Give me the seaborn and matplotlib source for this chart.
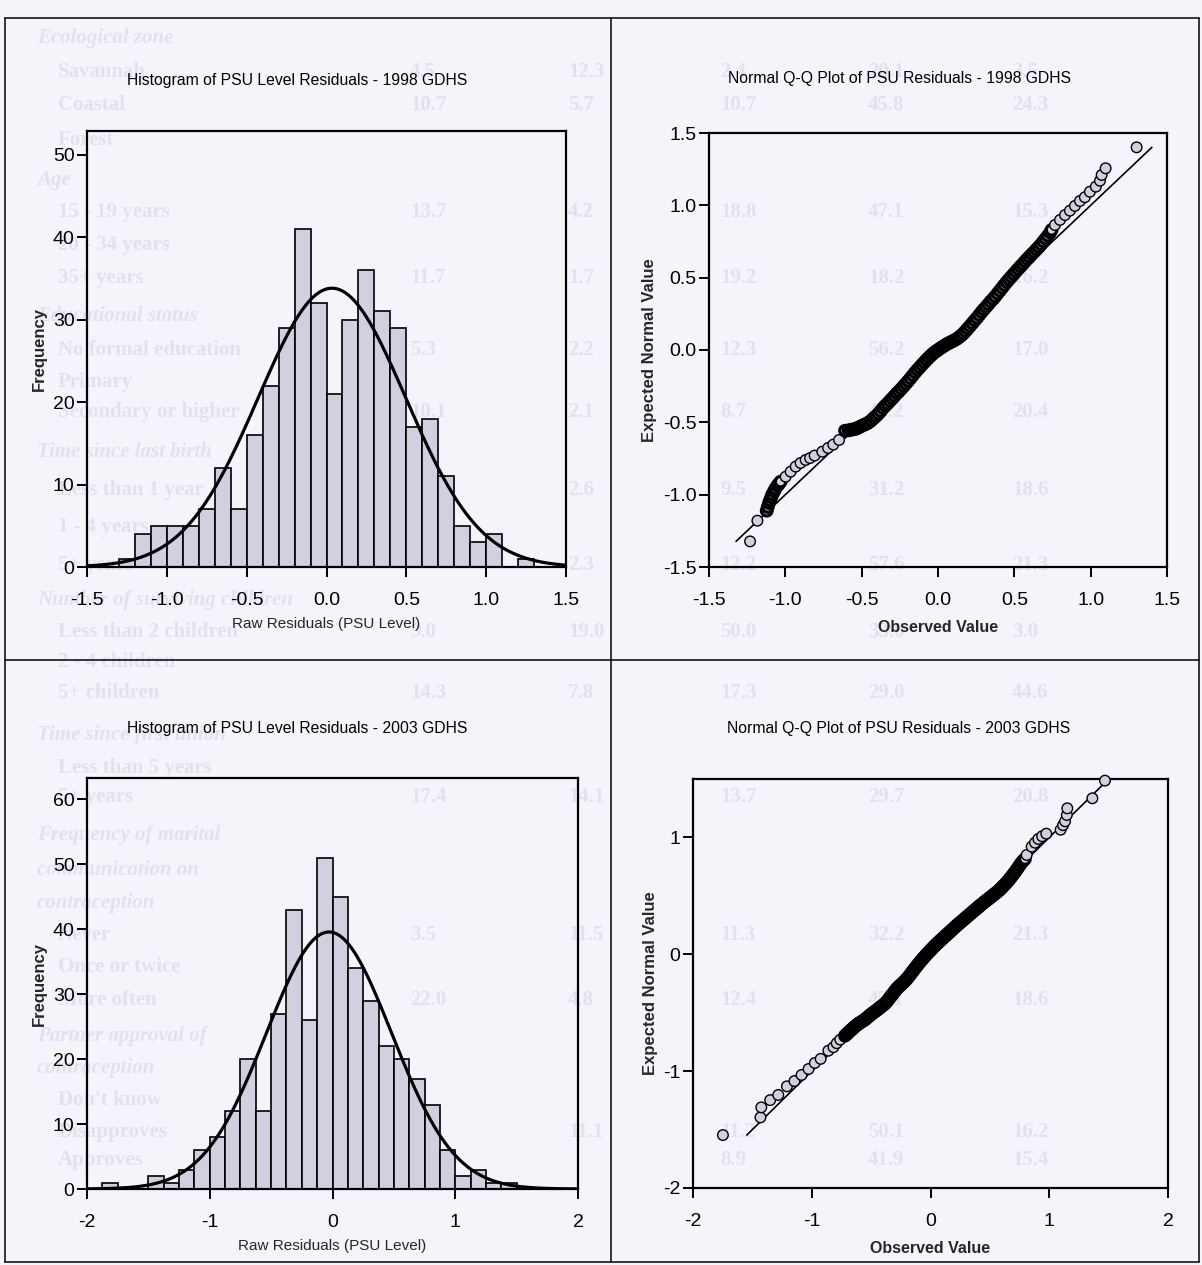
import numpy as np
import pandas as pd
import matplotlib
matplotlib.use("Agg")
import matplotlib.pyplot as plt
from matplotlib.lines import Line2D
import seaborn as sns

# ---------------- data ----------------
# PSU-level residual histograms (counts per bin)
hist98_start = -1.3
hist98_width = 0.1
hist98_counts = [1, 4, 5, 5, 5, 7, 12, 7, 16, 22, 29, 41, 32, 21, 30, 36,
                 31, 29, 17, 18, 11, 5, 3, 4, 0, 1]

hist03_start = -1.875
hist03_width = 0.125
hist03_counts = [1, 0, 0, 2, 1, 3, 6, 8, 12, 20, 12, 27, 43, 26, 51, 45,
                 34, 29, 22, 20, 17, 13, 6, 2, 3, 1, 1]

# Normal Q-Q points: observed residual vs expected normal value
qq98_obs = [-1.231, -1.183, -1.122, -1.115, -1.107, -1.100, -1.092, -1.085, -1.074, -1.065,
            -1.052, -1.042, -1.031, -0.998, -0.965, -0.932, -0.900, -0.867, -0.838, -0.808,
            -0.758, -0.720, -0.686, -0.648, -0.609,
            -0.585, -0.570, -0.555, -0.540, -0.525, -0.510, -0.495, -0.480, -0.465, -0.450,
            -0.435, -0.420, -0.405, -0.390, -0.375, -0.360, -0.345, -0.330, -0.315, -0.300,
            -0.285, -0.270, -0.255, -0.240, -0.225, -0.210, -0.195, -0.180, -0.165, -0.150,
            -0.135, -0.120, -0.105, -0.090, -0.075, -0.060, -0.045, -0.030, -0.015, 0.000,
            0.015, 0.030, 0.045, 0.060, 0.075, 0.090, 0.105, 0.120, 0.135, 0.150,
            0.165, 0.180, 0.195, 0.210, 0.225, 0.240, 0.255, 0.270, 0.285, 0.300,
            0.315, 0.330, 0.345, 0.360, 0.375, 0.390, 0.405, 0.420, 0.435, 0.450,
            0.465, 0.480, 0.495, 0.510, 0.525, 0.540, 0.555, 0.570, 0.585, 0.600,
            0.615, 0.630, 0.645, 0.660, 0.675, 0.690, 0.705, 0.720, 0.735,
            0.744, 0.766, 0.799, 0.832, 0.864, 0.897, 0.930, 0.962, 0.995, 1.034,
            1.061, 1.072, 1.098, 1.301]
qq98_exp = [-1.323, -1.180, -1.111, -1.085, -1.058, -1.040, -1.018, -0.998, -0.977, -0.958,
            -0.938, -0.925, -0.910, -0.876, -0.841, -0.806, -0.781, -0.760, -0.747, -0.730,
            -0.703, -0.677, -0.654, -0.622, -0.558,
            -0.555, -0.552, -0.548, -0.545, -0.538, -0.530, -0.522, -0.515, -0.508, -0.498,
            -0.485, -0.470, -0.456, -0.440, -0.422, -0.402, -0.385, -0.370, -0.352, -0.335,
            -0.318, -0.300, -0.285, -0.268, -0.250, -0.232, -0.214, -0.195, -0.175, -0.155,
            -0.137, -0.120, -0.102, -0.085, -0.068, -0.052, -0.037, -0.022, -0.010, 0.000,
            0.012, 0.022, 0.032, 0.042, 0.050, 0.058, 0.066, 0.075, 0.086, 0.098,
            0.113, 0.130, 0.148, 0.166, 0.185, 0.204, 0.222, 0.242, 0.262, 0.280,
            0.298, 0.316, 0.335, 0.352, 0.370, 0.390, 0.410, 0.430, 0.450, 0.470,
            0.488, 0.506, 0.524, 0.542, 0.560, 0.577, 0.594, 0.612, 0.629, 0.645,
            0.662, 0.678, 0.695, 0.712, 0.730, 0.750, 0.770, 0.790, 0.812,
            0.830, 0.864, 0.899, 0.933, 0.963, 0.996, 1.030, 1.056, 1.094, 1.129,
            1.170, 1.210, 1.256, 1.401]

qq03_obs = [-1.748, -1.432, -1.425, -1.350, -1.282, -1.209, -1.146, -1.086, -1.027, -0.974,
            -0.925, -0.860, -0.817, -0.790, -0.760,
            -0.720, -0.705, -0.690, -0.675, -0.660, -0.645, -0.630, -0.615, -0.600, -0.585,
            -0.570, -0.555, -0.540, -0.525, -0.510, -0.495, -0.480, -0.465, -0.450, -0.435,
            -0.420, -0.405, -0.390, -0.375, -0.360, -0.345, -0.330, -0.315, -0.300, -0.285,
            -0.270, -0.255, -0.240, -0.225, -0.210, -0.195, -0.180, -0.165, -0.150, -0.135,
            -0.120, -0.105, -0.090, -0.075, -0.060, -0.045, -0.030, -0.015, 0.000, 0.015,
            0.030, 0.045, 0.060, 0.075, 0.090, 0.105, 0.120, 0.135, 0.150, 0.165,
            0.180, 0.195, 0.210, 0.225, 0.240, 0.255, 0.270, 0.285, 0.300, 0.315,
            0.330, 0.345, 0.360, 0.375, 0.390, 0.405, 0.420, 0.435, 0.450, 0.465,
            0.480, 0.495, 0.510, 0.525, 0.540, 0.555, 0.570, 0.585, 0.600, 0.615,
            0.630, 0.645, 0.660, 0.675, 0.690, 0.705, 0.720, 0.735, 0.750, 0.765, 0.780,
            0.795, 0.810, 0.852, 0.880, 0.908, 0.940, 0.975, 1.096, 1.116, 1.133,
            1.148, 1.152, 1.363, 1.469]
qq03_exp = [-1.547, -1.396, -1.310, -1.248, -1.204, -1.130, -1.085, -1.033, -0.982, -0.930,
            -0.895, -0.825, -0.795, -0.761, -0.730,
            -0.697, -0.683, -0.668, -0.654, -0.640, -0.626, -0.613, -0.600, -0.590, -0.580,
            -0.570, -0.560, -0.548, -0.535, -0.522, -0.510, -0.498, -0.487, -0.476, -0.464,
            -0.452, -0.440, -0.428, -0.413, -0.395, -0.375, -0.355, -0.335, -0.315, -0.296,
            -0.280, -0.266, -0.252, -0.238, -0.222, -0.205, -0.186, -0.166, -0.146, -0.126,
            -0.106, -0.087, -0.068, -0.050, -0.032, -0.015, 0.002, 0.018, 0.034, 0.050,
            0.066, 0.081, 0.096, 0.110, 0.124, 0.138, 0.152, 0.166, 0.180, 0.194,
            0.208, 0.222, 0.236, 0.250, 0.263, 0.276, 0.289, 0.302, 0.315, 0.328,
            0.341, 0.354, 0.367, 0.380, 0.393, 0.406, 0.419, 0.432, 0.444, 0.456,
            0.468, 0.480, 0.492, 0.504, 0.516, 0.528, 0.541, 0.555, 0.570, 0.586,
            0.602, 0.618, 0.636, 0.655, 0.675, 0.695, 0.716, 0.738, 0.760, 0.782, 0.800,
            0.815, 0.850, 0.921, 0.955, 0.987, 1.010, 1.032, 1.066, 1.105, 1.138,
            1.192, 1.249, 1.335, 1.486]

titles = ["Histogram of PSU Level Residuals - 1998 GDHS",
          "Normal Q-Q Plot of PSU Residuals - 1998 GDHS",
          "Histogram of PSU Level Residuals - 2003 GDHS",
          "Normal Q-Q Plot of PSU Residuals - 2003 GDHS"]
hist_xlabel = "Raw Residuals (PSU Level)"
hist_ylabel = "Frequency"
qq_xlabel = "Observed Value"
qq_ylabel = "Expected Normal Value"

# faint table printed on the reverse side of the page
page_headers = [("Ecological zone", 38), ("Age", 180), ("Educational status", 316),
                ("Time since last birth", 452), ("Number of surviving children", 600),
                ("Time since first union", 735), ("Frequency of marital", 835),
                ("communication on", 870), ("contraception", 903),
                ("Partner approval of", 1036), ("contraception", 1068)]
page_rows = [("Savannah", 72), ("Coastal", 105), ("Forest", 140),
             ("15 - 19 years", 212), ("20 - 34 years", 245), ("35+ years", 278),
             ("No formal education", 350), ("Primary", 382), ("Secondary or higher", 412),
             ("Less than 1 year", 490), ("1 - 4 years", 527), ("5+ years", 565),
             ("Less than 2 children", 632), ("2 - 4 children", 662), ("5+ children", 693),
             ("Less than 5 years", 768), ("5+ years", 797),
             ("Never", 935), ("Once or twice", 967), ("More often", 1000),
             ("Don't know", 1100), ("Disapproves", 1132), ("Approves", 1160)]
page_values = [(72, ["4.5", "12.3", "2.4", "20.1", "3.5"]),
               (105, ["10.7", "5.7", "10.7", "45.8", "24.3"]),
               (212, ["13.7", "4.2", "18.8", "47.1", "15.3"]),
               (278, ["11.7", "1.7", "19.2", "18.2", "16.2"]),
               (350, ["5.3", "2.2", "12.3", "56.2", "17.0"]),
               (412, ["10.1", "2.1", "8.7", "44.2", "20.4"]),
               (490, ["", "2.6", "9.5", "31.2", "18.6"]),
               (565, ["", "2.3", "12.2", "57.6", "21.3"]),
               (632, ["9.0", "19.0", "50.0", "33.0", "3.0"]),
               (693, ["14.3", "7.8", "17.3", "29.0", "44.6"]),
               (797, ["17.4", "14.1", "13.7", "29.7", "20.8"]),
               (935, ["3.5", "11.5", "11.3", "32.2", "21.3"]),
               (1000, ["22.0", "4.8", "12.4", "45.1", "18.6"]),
               (1132, ["", "11.1", "11.2", "50.1", "16.2"]),
               (1160, ["", "", "8.9", "41.9", "15.4"])]
page_columns = [410, 568, 720, 868, 1012]

# ---------------- style ----------------
sns.set_theme(style="white")
plt.rcParams["font.family"] = ["Liberation Sans", "DejaVu Sans"]
plt.rcParams["axes.unicode_minus"] = False

PAPER = "#f6f4fa"
GHOST = "#e4e0ef"
BAR = "#d0d0e0"
W, H = 1202, 1265

fig = plt.figure(figsize=(W / 100, H / 100), dpi=100, facecolor=PAPER)

# show-through text behind the charts
for txt, y in page_headers:
    fig.text(37 / W, 1 - y / H, txt, ha="left", va="center", fontsize=15,
             family="Liberation Serif", style="italic", weight="bold",
             color=GHOST, zorder=-5)
for txt, y in page_rows:
    fig.text(58 / W, 1 - y / H, txt, ha="left", va="center", fontsize=15,
             family="Liberation Serif", weight="bold", color=GHOST, zorder=-5)
for y, vals in page_values:
    for cx, v in zip(page_columns, vals):
        fig.text(cx / W, 1 - y / H, v, ha="left", va="center", fontsize=15,
                 family="Liberation Serif", weight="bold", color=GHOST, zorder=-5)


def add_axes(x0, y0, x1, y1):
    """Create axes from pixel box (left, top, right, bottom)."""
    return fig.add_axes([x0 / W, 1 - y1 / H, (x1 - x0) / W, (y1 - y0) / H])


def style_axes(ax):
    ax.set_facecolor("none")
    for sp in ax.spines.values():
        sp.set_visible(True)
        sp.set_color("black")
        sp.set_linewidth(1.6)
    ax.tick_params(axis="both", which="both", direction="out", length=7,
                   width=1.4, color="black", labelsize=14, labelcolor="black",
                   bottom=True, left=True, top=False, right=False)
    ax.tick_params(axis="x", pad=11)
    ax.tick_params(axis="y", pad=2)
    ax.grid(False)


def histogram(ax, start, width, counts, xlim, ylim, xticks, yticks, fmt):
    nbins = len(counts)
    centers = start + width * (np.arange(nbins) + 0.5)
    df = pd.DataFrame({"resid": centers, "n": counts})
    sns.histplot(data=df, x="resid", weights="n", binwidth=width,
                 binrange=(start, start + width * nbins), ax=ax,
                 color=BAR, edgecolor="black", linewidth=1.2, alpha=1.0)
    # fitted normal curve scaled to the counts
    c = np.asarray(counts, dtype=float)
    n = c.sum()
    mu = (c * centers).sum() / n
    sd = np.sqrt((c * (centers - mu) ** 2).sum() / n)
    xs = np.linspace(xlim[0], xlim[1], 400)
    ys = n * width * np.exp(-0.5 * ((xs - mu) / sd) ** 2) / (sd * np.sqrt(2 * np.pi))
    sns.lineplot(x=xs, y=ys, ax=ax, color="black", linewidth=2.3)
    ax.set_xlim(*xlim)
    ax.set_ylim(*ylim)
    ax.set_xticks(xticks)
    ax.set_xticklabels([fmt.format(t) for t in xticks])
    ax.set_yticks(yticks)
    ax.set_xlabel(hist_xlabel, fontsize=11, labelpad=6)
    ax.set_ylabel(hist_ylabel, fontsize=12, fontweight="bold", labelpad=4)


def qqplot(ax, obs, exp, lim_x, lim_y, xticks, yticks, fmt):
    df = pd.DataFrame({"observed": obs, "expected": exp})
    lo, hi = df["expected"].min(), df["expected"].max()
    sns.lineplot(x=[lo, hi], y=[lo, hi], ax=ax, color="black", linewidth=1.2)
    ax.set_xlim(*lim_x)
    ax.set_ylim(*lim_y)
    # where markers pile up closely their outlines merge into a dark band
    pts = ax.transData.transform(df[["observed", "expected"]].to_numpy())
    gap = np.hypot(*np.diff(pts, axis=0).T)
    near = np.minimum(np.r_[gap, np.inf], np.r_[np.inf, gap])
    lws = np.where(near < 4.0, 2.3, 1.0)
    sns.scatterplot(data=df, x="observed", y="expected", ax=ax, s=58,
                    color=BAR, edgecolor="black", linewidth=lws, zorder=3,
                    clip_on=False)
    ax.set_xlim(*lim_x)
    ax.set_ylim(*lim_y)
    ax.set_xticks(xticks)
    ax.set_xticklabels([fmt.format(t) for t in xticks])
    ax.set_yticks(yticks)
    ax.set_yticklabels([fmt.format(t) for t in yticks])
    ax.set_xlabel(qq_xlabel, fontsize=11.5, fontweight="bold", labelpad=8)
    ax.set_ylabel(qq_ylabel, fontsize=12, fontweight="bold", labelpad=4)


# ---------------- panels ----------------
ax1 = add_axes(87, 131, 566, 567)
style_axes(ax1)
histogram(ax1, hist98_start, hist98_width, hist98_counts, (-1.5, 1.5), (0, 52.9),
          [-1.5, -1.0, -0.5, 0.0, 0.5, 1.0, 1.5], [0, 10, 20, 30, 40, 50], "{:.1f}")

ax2 = add_axes(709, 133, 1167, 567)
style_axes(ax2)
qqplot(ax2, qq98_obs, qq98_exp, (-1.5, 1.5), (-1.5, 1.5),
       [-1.5, -1.0, -0.5, 0.0, 0.5, 1.0, 1.5], [-1.5, -1.0, -0.5, 0.0, 0.5, 1.0, 1.5], "{:.1f}")

ax3 = add_axes(87, 778, 578, 1189)
style_axes(ax3)
histogram(ax3, hist03_start, hist03_width, hist03_counts, (-2, 2), (0, 63.3),
          [-2, -1, 0, 1, 2], [0, 10, 20, 30, 40, 50, 60], "{:.0f}")

ax4 = add_axes(693, 779, 1168, 1188)
style_axes(ax4)
qqplot(ax4, qq03_obs, qq03_exp, (-2, 2), (-2, 1.5),
       [-2, -1, 0, 1, 2], [-2, -1, 0, 1], "{:.0f}")

# panel titles
for (cx, cy), t in zip([(297, 80), (899, 78), (297, 729), (899, 729)], titles):
    fig.text(cx / W, 1 - cy / H, t, ha="center", va="center", fontsize=11.3,
             color="black")

# ---------------- table frame ----------------
def hline(y, x0, x1):
    fig.add_artist(Line2D([x0 / W, x1 / W], [1 - y / H, 1 - y / H],
                          transform=fig.transFigure, color="black", lw=1.1))


def vline(x, y0, y1):
    fig.add_artist(Line2D([x / W, x / W], [1 - y0 / H, 1 - y1 / H],
                          transform=fig.transFigure, color="black", lw=1.1))


hline(18, 5, 1199)
hline(660, 5, 1199)
hline(1262, 5, 1199)
vline(5, 18, 1262)
vline(611, 18, 1262)
vline(1199, 18, 1262)

fig.savefig("out.png", dpi=100, facecolor=PAPER)
